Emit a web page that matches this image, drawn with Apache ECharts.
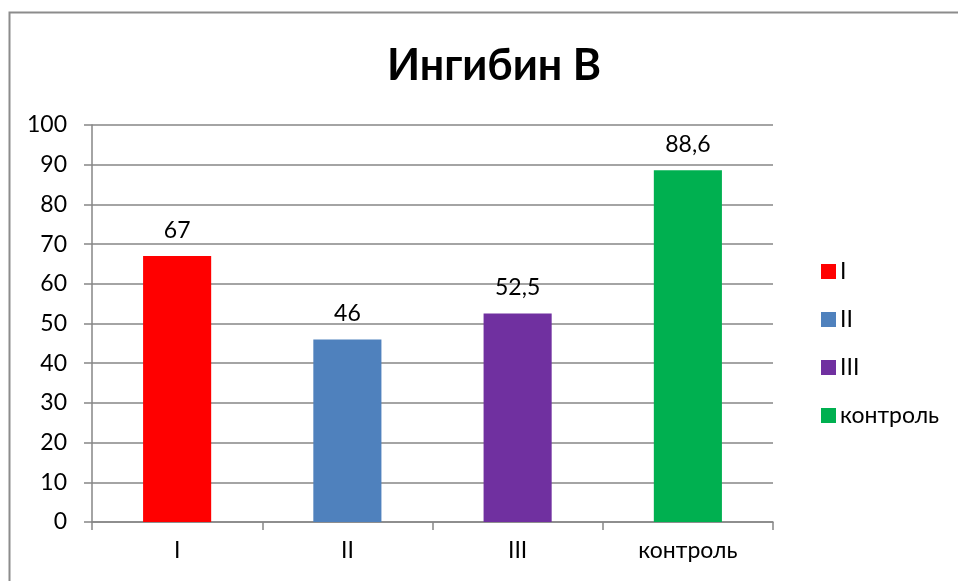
<!DOCTYPE html>
<html>
<head>
<meta charset="utf-8">
<script src="https://cdn.jsdelivr.net/npm/echarts@6/dist/echarts.min.js"></script>
<style>
  html, body { margin: 0; padding: 0; background: #fff; }
  #chart { width: 958px; height: 581px; }
</style>
</head>
<body>
<div id="chart"></div>
<script>
const categories = ['I', 'II', 'III', 'контроль']
const values = [67, 46, 52.5, 88.6]
const colors = ['#ff0000', '#4f81bd', '#7030a0', '#00b050']

const fontFamily = 'Lato, "Open Sans", sans-serif'

// one series per category so the legend lists each bar
const series = categories.map((name, i) => ({
  name,
  type: 'bar',
  barWidth: '40%',
  barGap: '-100%',
  itemStyle: { color: colors[i] },
  label: {
    show: true,
    position: 'top',
    distance: 14,
    color: '#000',
    fontSize: 23,
    fontFamily,
    formatter: p => String(p.value).replace('.', ',')
  },
  data: categories.map((c, j) => (j === i ? values[i] : '-'))
}))

const chart = echarts.init(document.getElementById('chart'), null, { renderer: 'canvas' })
chart.setOption({
  animation: false,
  backgroundColor: '#fff',
  title: {
    text: 'Ингибин В',
    left: 489,
    top: 40,
    textAlign: 'center',
    textStyle: { fontFamily, fontSize: 43, fontWeight: 'bold', color: '#000' }
  },
  graphic: [{
    type: 'rect',
    shape: { x: 9.5, y: 12.5, width: 1000, height: 1000 },
    style: { fill: 'none', stroke: '#8c8c8c', lineWidth: 2 },
    silent: true
  }],
  legend: {
    orient: 'vertical',
    left: 816,
    top: 255,
    itemWidth: 15,
    itemHeight: 15,
    itemGap: 25,
    icon: 'rect',
    textStyle: { fontFamily, fontSize: 23, color: '#000', padding: [0, 0, 0, -1] },
    data: categories
  },
  grid: { left: 92, right: 185, top: 125, bottom: 59 },
  xAxis: {
    type: 'category',
    data: categories,
    axisLine: { lineStyle: { color: '#868686', width: 1.5 } },
    axisTick: { show: true, length: 8, alignWithLabel: false, lineStyle: { color: '#868686', width: 1.5 } },
    axisLabel: { color: '#000', fontSize: 23, fontFamily, margin: 17 }
  },
  yAxis: {
    type: 'value',
    min: 0,
    max: 100,
    interval: 10,
    axisLine: { show: true, lineStyle: { color: '#868686', width: 1.5 } },
    axisTick: { show: true, length: 8, lineStyle: { color: '#868686', width: 1.5 } },
    axisLabel: { color: '#000', fontSize: 23, fontFamily, margin: 25 },
    splitLine: { lineStyle: { color: '#868686', width: 1.5 } }
  },
  series
})
</script>
</body>
</html>
